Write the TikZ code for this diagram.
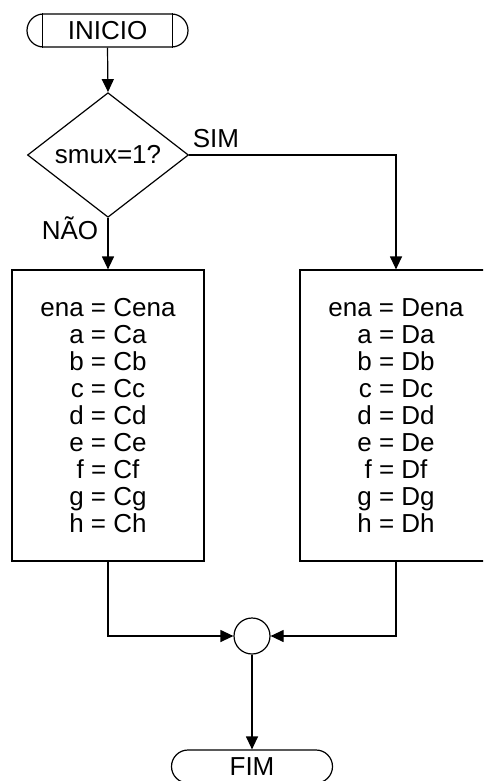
\documentclass[tikz,border=0pt]{standalone}
\usepackage{fontspec}
\setmainfont{Liberation Sans}
\usetikzlibrary{shapes.geometric,arrows.meta}
\begin{document}
\begin{tikzpicture}[x=1pt,y=-1pt,
  line width=1.2pt,
  every node/.style={font=\fontsize{26}{27}\selectfont},
  term/.style={draw,rounded corners=16.5pt,minimum width=161pt,minimum height=33pt,inner sep=0pt},
  decision/.style={draw,diamond,minimum width=161pt,minimum height=119pt,inner sep=0pt},
  proc/.style={draw,minimum width=192pt,minimum height=291pt,align=center,inner sep=0pt},
  junction/.style={draw,circle,minimum size=36pt,inner sep=0pt},
  flow/.style={-{Triangle[length=13pt,width=12pt]}},
  lbl/.style={inner sep=0pt}
]
\useasboundingbox (0,0) rectangle (483,781);
\clip (0,0) rectangle (483,781);

% start terminal with inner bars
\node[term] (ini) at (107.5,30.5) {INICIO};
\draw ([xshift=16pt]ini.north west) -- ([xshift=16pt]ini.south west);
\draw ([xshift=-16pt]ini.north east) -- ([xshift=-16pt]ini.south east);

% decision
\node[decision] (dec) at (108,155) {smux=1?};
\node[lbl] (sim) at (216,139) {SIM};
\node[lbl] (nao) at (70,228) {NÃO};

% assignment blocks
\node[proc] (boxC) at (108,415.5) {ena = Cena\\a = Ca\\b = Cb\\c = Cc\\d = Cd\\e = Ce\\f = Cf\\g = Cg\\h = Ch};
\node[proc] (boxD) at (396,415.5) {ena = Dena\\a = Da\\b = Db\\c = Dc\\d = Dd\\e = De\\f = Df\\g = Dg\\h = Dh};

% merge point and end terminal
\node[junction] (join) at (252,636) {};
\node[term] (fim) at (252,766.5) {FIM};

% connectors
\draw[flow] (ini.south) -- (dec.north);
\draw[flow] (dec.south) -- (boxC.north);
\draw[flow] (dec.east) -| (boxD.north);
\draw[flow] (boxC.south) |- (join.west);
\draw[flow] (boxD.south) |- (join.east);
\draw[flow] (join.south) -- (fim.north);
\end{tikzpicture}
\end{document}
